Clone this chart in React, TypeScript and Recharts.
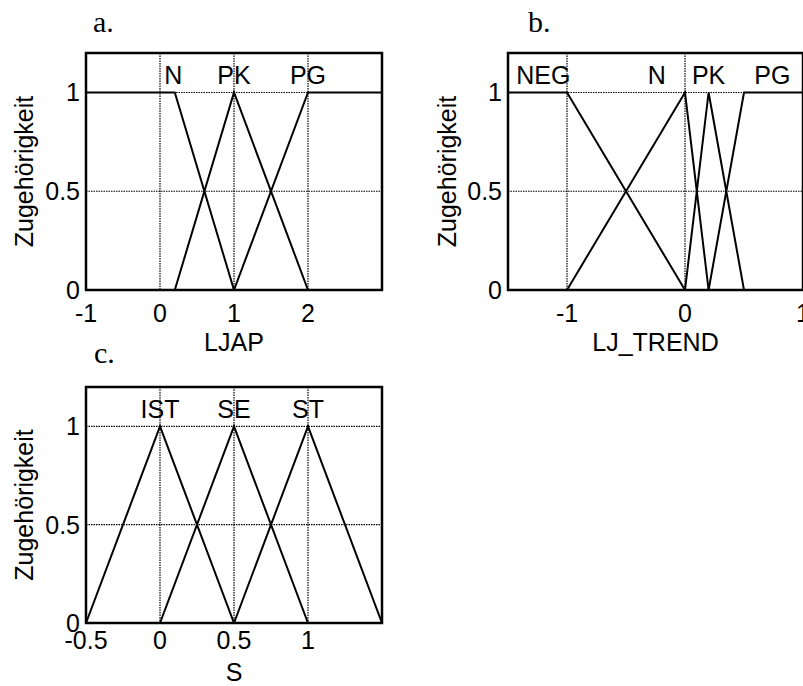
import type { JSX } from 'react';
import {
  CartesianGrid,
  Line,
  LineChart,
  ReferenceArea,
  ReferenceDot,
  XAxis,
  YAxis,
} from 'recharts';

const FONT = '"Liberation Sans", Arial, Helvetica, sans-serif';
const SERIF = '"Liberation Serif", "Times New Roman", serif';

type Pair = [number, number];

// a. LJAP
const ljapTicks = [-1, 0, 1, 2];
const ljapN: Pair[] = [[-1, 1], [0.2, 1], [1, 0], [3, 0]];
const ljapPK: Pair[] = [[-1, 0], [0.2, 0], [1, 1], [2, 0], [3, 0]];
const ljapPG: Pair[] = [[-1, 0], [1, 0], [2, 1], [3, 1]];
const ljapNames = ['N', 'PK', 'PG'];
const ljapNamePos = [0.18, 1, 2];

// b. LJ_TREND
const trendTicks = [-1, 0, 1];
const trendNEG: Pair[] = [[-1.5, 1], [-1, 1], [0, 0], [1, 0]];
const trendN: Pair[] = [[-1.5, 0], [-1, 0], [0, 1], [0.2, 0], [1, 0]];
const trendPK: Pair[] = [[-1.5, 0], [0, 0], [0.2, 1], [0.5, 0], [1, 0]];
const trendPG: Pair[] = [[-1.5, 0], [0.2, 0], [0.5, 1], [1, 1]];
const trendNames = ['NEG', 'N', 'PK', 'PG'];
const trendNamePos = [-1.2, -0.24, 0.2, 0.74];

// c. S
const sTicks = [-0.5, 0, 0.5, 1];
const sIST: Pair[] = [[-0.5, 0], [0, 1], [0.5, 0], [1.5, 0]];
const sSE: Pair[] = [[-0.5, 0], [0, 0], [0.5, 1], [1, 0], [1.5, 0]];
const sST: Pair[] = [[-0.5, 0], [0.5, 0], [1, 1], [1.5, 0]];
const sNames = ['IST', 'SE', 'ST'];
const sNamePos = [0, 0.5, 1];

const yTicks = [0, 0.5, 1];
const Y_MAX = 1.2;
const NAME_Y = 1.09;
const Y_AXIS_W = 70;
const X_AXIS_H = 30;

interface PanelProps {
  readonly left: number;
  readonly top: number;
  readonly width: number;
  readonly height: number;
  readonly plot: [number, number, number, number]; // left, top, right, bottom (page px)
  readonly xDomain: [number, number];
  readonly xTicks: number[];
  readonly series: Pair[][];
  readonly names: string[];
  readonly namePos: number[];
  readonly xLabel: string;
  readonly xLabelOffset: number;
  readonly yLabelX: number;
  readonly tickGap: number;
}

function Panel(p: PanelProps): JSX.Element {
  const [pl, pt, pr, pb] = p.plot;
  const margin = {
    top: pt - p.top,
    left: pl - p.left - Y_AXIS_W,
    right: p.left + p.width - pr,
    bottom: p.top + p.height - pb - X_AXIS_H,
  };
  const tickStyle = { fill: '#000', fontSize: 25, fontFamily: FONT };
  return (
    <div style={{ position: 'absolute', left: p.left, top: p.top }}>
      <LineChart width={p.width} height={p.height} margin={margin}>
        <CartesianGrid stroke="#000" strokeDasharray="1.5 1" strokeWidth={1.2} />
        <XAxis
          dataKey="x"
          type="number"
          domain={p.xDomain}
          ticks={p.xTicks}
          interval={0}
          allowDataOverflow
          axisLine={false}
          tickLine={false}
          tickSize={0}
          tickMargin={p.tickGap}
          height={X_AXIS_H}
          tick={tickStyle}
          label={{
            value: p.xLabel,
            position: 'bottom',
            offset: p.xLabelOffset,
            fill: '#000',
            fontSize: 25,
            fontFamily: FONT,
          }}
        />
        <YAxis
          type="number"
          domain={[0, Y_MAX]}
          ticks={yTicks}
          interval={0}
          allowDataOverflow
          axisLine={false}
          tickLine={false}
          tickSize={0}
          tickMargin={6}
          width={Y_AXIS_W}
          tick={tickStyle}
          label={{
            value: 'Zugehörigkeit',
            angle: -90,
            position: 'insideLeft',
            offset: p.yLabelX - p.left - margin.left,
            fill: '#000',
            fontSize: 25,
            fontFamily: FONT,
            style: { textAnchor: 'middle' },
          }}
        />
        {p.series.map((s, i) => (
          <Line
            key={i}
            data={s.map(([x, y]) => ({ x, y }))}
            dataKey="y"
            name={p.names[i]}
            type="linear"
            dot={false}
            activeDot={false}
            stroke="#000"
            strokeWidth={2}
            isAnimationActive={false}
          />
        ))}
        <ReferenceArea
          x1={p.xDomain[0]}
          x2={p.xDomain[1]}
          y1={0}
          y2={Y_MAX}
          fill="none"
          fillOpacity={0}
          stroke="#000"
          strokeWidth={2.5}
          ifOverflow="visible"
        />
        {p.names.map((n, i) => (
          <ReferenceDot
            key={n}
            x={p.namePos[i]}
            y={NAME_Y}
            r={0}
            fill="none"
            stroke="none"
            label={{ value: n, position: 'center', fill: '#000', fontSize: 25, fontFamily: FONT }}
          />
        ))}
      </LineChart>
    </div>
  );
}

export default function App(): JSX.Element {
  return (
    <div
      style={{
        position: 'absolute',
        left: 0,
        top: 0,
        width: 803,
        height: 686,
        overflow: 'hidden',
        background: '#fff',
      }}
    >
      <Panel
        left={0}
        top={0}
        width={400}
        height={380}
        plot={[86, 53, 382, 290]}
        xDomain={[-1, 3]}
        xTicks={ljapTicks}
        series={[ljapN, ljapPK, ljapPG]}
        names={ljapNames}
        namePos={ljapNamePos}
        xLabel="LJAP"
        xLabelOffset={13}
        yLabelX={24}
        tickGap={14}
      />
      <Panel
        left={400}
        top={0}
        width={440}
        height={380}
        plot={[508, 53, 803, 290]}
        xDomain={[-1.5, 1]}
        xTicks={trendTicks}
        series={[trendNEG, trendN, trendPK, trendPG]}
        names={trendNames}
        namePos={trendNamePos}
        xLabel="LJ_TREND"
        xLabelOffset={13}
        yLabelX={447}
        tickGap={14}
      />
      <Panel
        left={0}
        top={330}
        width={400}
        height={356}
        plot={[86, 387, 382, 623]}
        xDomain={[-0.5, 1.5]}
        xTicks={sTicks}
        series={[sIST, sSE, sST]}
        names={sNames}
        namePos={sNamePos}
        xLabel="S"
        xLabelOffset={10}
        yLabelX={24}
        tickGap={8}
      />
      <svg
        width={803}
        height={686}
        style={{ position: 'absolute', left: 0, top: 0, pointerEvents: 'none' }}
      >
        <text x={93} y={32} fontFamily={SERIF} fontSize={30} fill="#000">a.</text>
        <text x={528} y={32} fontFamily={SERIF} fontSize={30} fill="#000">b.</text>
        <text x={94} y={363} fontFamily={SERIF} fontSize={30} fill="#000">c.</text>
      </svg>
    </div>
  );
}
